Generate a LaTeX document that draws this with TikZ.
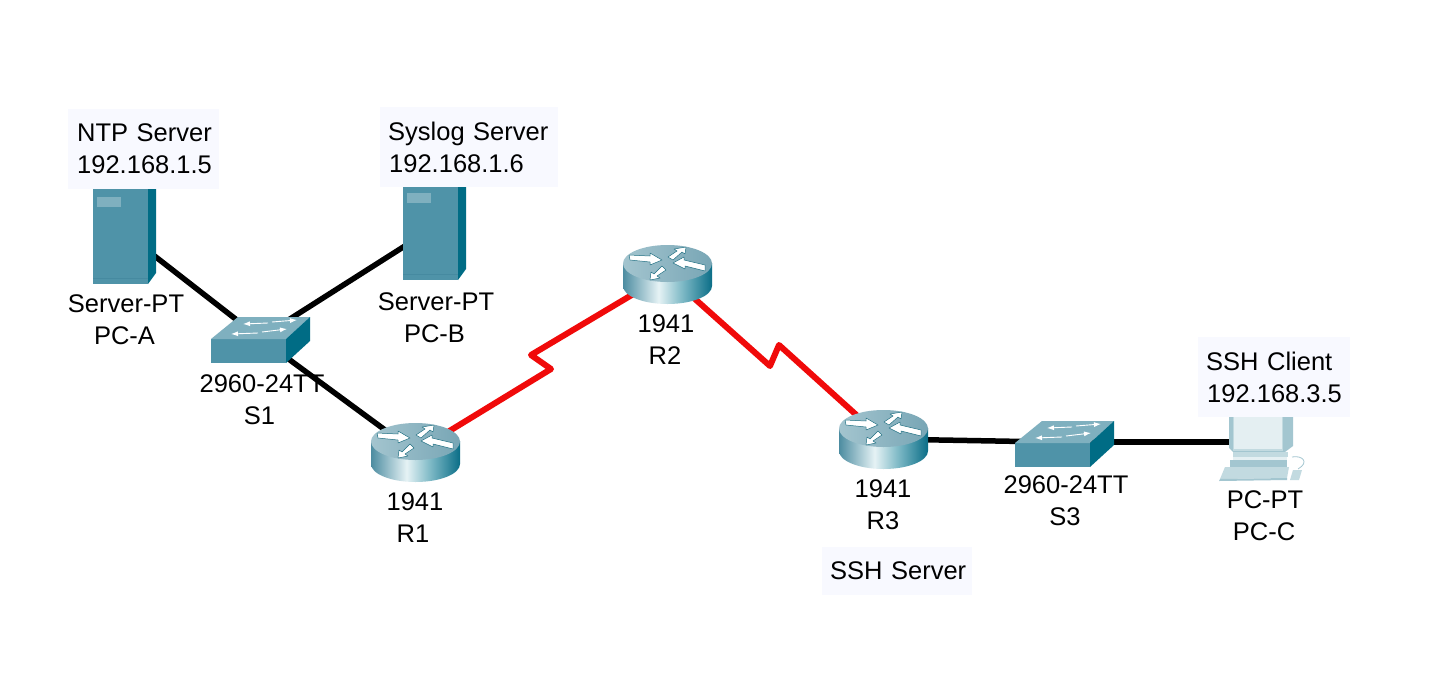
\documentclass[tikz,border=0pt]{standalone}
\usepackage{fontspec}
\setmainfont{Liberation Sans}
\usetikzlibrary{arrows.meta}
\definecolor{boxbg}{HTML}{F8F9FF}
\definecolor{tealF}{HTML}{4F93A8}
\definecolor{tealT}{HTML}{7FB0BF}
\definecolor{tealS}{HTML}{006C85}
\definecolor{tealB}{HTML}{468AA0}
\definecolor{arrowdark}{HTML}{1F6F82}
\definecolor{pcA}{HTML}{C2DAE0}
\definecolor{pcB}{HTML}{A3C6D0}
\definecolor{pcC}{HTML}{E4EFF2}
\definecolor{redlink}{HTML}{F00A0A}
\pgfdeclarehorizontalshading{routerside}{100bp}{
  rgb(0bp)=(0.30,0.55,0.63); rgb(25bp)=(0.30,0.55,0.63);
  rgb(45bp)=(0.90,0.95,0.96); rgb(58bp)=(0.50,0.73,0.78);
  rgb(75bp)=(0.04,0.43,0.53); rgb(100bp)=(0.04,0.43,0.53)}
\pgfdeclarehorizontalshading{routertop}{100bp}{
  rgb(0bp)=(0.64,0.77,0.81); rgb(25bp)=(0.64,0.77,0.81);
  rgb(75bp)=(0.47,0.65,0.71); rgb(100bp)=(0.47,0.65,0.71)}
\tikzset{
  x=1pt,y=-1pt,
  wire/.style={line width=5.5pt,black,line join=miter},
  serial/.style={line width=6pt,redlink,line join=round},
  infobox/.style={fill=boxbg,inner sep=0pt,align=left,anchor=north west,font=\fontsize{25.5}{32}\selectfont},
  devlabel/.style={inner sep=0pt,align=center,anchor=north,font=\fontsize{25.5}{32}\selectfont},
  swarrow/.style={white,line width=.9pt,-{Latex[length=7pt,width=5pt]}},
  rarrow/.style={fill=white,draw=arrowdark,line width=.5pt,line join=round},
  serverpic/.pic={
    \fill[tealF] (93,189) rectangle (148,284);
    \fill[tealS] (148,189) -- (156,189) -- (156,273) -- (148,284) -- cycle;
    \fill[tealT] (97,197) rectangle (121,207);
    \draw[tealB,line width=.8pt] (93,278) -- (148,278);
  },
  switchpic/.pic={
    \fill[tealF] (211,339) rectangle (286,363);
    \fill[tealT] (211,339) -- (238,317) -- (310,317) -- (286,339) -- cycle;
    \fill[tealS] (286,339) -- (310,317) -- (310,341) -- (286,363) -- cycle;
    \draw[swarrow] (268,323) -- (243,324);
    \draw[swarrow] (272,322) -- (297,320);
    \draw[swarrow] (258,333) -- (231,334);
    \draw[swarrow] (262,332) -- (287,329);
  },
  routerpic/.pic={
    \shade[shading=routerside]
      (623,263) -- (623,286) arc[start angle=180,end angle=0,x radius=44.5,y radius=18] -- (712,263) -- cycle;
    \shade[shading=routertop] (667.5,263.5) ellipse[x radius=44.5,y radius=18.5];
    \path[rarrow] (629,255) -- (650,256) -- (650,253) -- (662,260) -- (650,265) -- (650,262) -- (630,260) -- cycle;
    \path[rarrow] (668,257) -- (677,251) -- (674,249) -- (686,247) -- (685,254) -- (682,252) -- (673,260) -- cycle;
    \path[rarrow] (705,271) -- (685,266) -- (685,269) -- (673,263) -- (684,257) -- (684,260) -- (705,265) -- cycle;
    \path[rarrow] (666,270) -- (657,276) -- (660,278) -- (650,280) -- (651,272) -- (654,274) -- (662,266) -- cycle;
  },
  pcpic/.pic={
    \fill[pcB] (1229,410) -- (1293,410) -- (1293,446) -- (1285,452) -- (1233,452) -- (1229,448) -- cycle;
    \fill[pcA] (1233,410) rectangle (1283,451);
    \fill[pcC] (1234,410) rectangle (1282,449);
    \fill[pcA] (1233,452) -- (1288,452) -- (1288,457) -- (1233,457) -- cycle;
    \fill[pcC] (1233,457) rectangle (1287,460);
    \fill[pcB] (1230,460) -- (1287,460) -- (1287,468) -- (1230,468) -- cycle;
    \fill[pcA] (1225,467) -- (1289,467) -- (1287,478) -- (1220,479) -- cycle;
    \fill[pcB] (1220,479) -- (1287,478) -- (1287,480) -- (1219,481) -- cycle;
    \fill[pcA] (1293,470) -- (1302,470) -- (1299,480) -- (1290,480) -- cycle;
    \draw[pcB,line width=.8pt] (1292,457) .. controls (1302,455) and (1310,462) .. (1298,469);
  }
}
\begin{document}
\begin{tikzpicture}
\useasboundingbox (0,0) rectangle (1446,675);
\fill[white] (0,0) rectangle (1446,675);
% anchors of the devices
\coordinate (pca) at (125,233);
\coordinate (pcb) at (430,230);
\coordinate (s1) at (260,338);
\coordinate (r1) at (415,452);
\coordinate (r2) at (667,274);
\coordinate (r3) at (883,439);
\coordinate (s3) at (1052,442);
\coordinate (pcc) at (1262,442);
\coordinate (k1a) at (551,369);
\coordinate (k1b) at (531,355);
\coordinate (k2a) at (770,366);
\coordinate (k2b) at (779,345);
% links
\draw[wire] (pca) -- (s1);
\draw[wire] (pcb) -- (s1);
\draw[wire] (s1) -- (r1);
\draw[wire] (r3) -- (s3);
\draw[wire] (s3) -- (pcc);
\draw[serial] (r1) -- (k1a) -- (k1b) -- (r2);
\draw[serial] (r2) -- (k2a) -- (k2b) -- (r3);
% devices
\pic at (0,0) {serverpic};
\pic at (310,-4) {serverpic};
\pic at (0,0) {switchpic};
\pic at (804,104) {switchpic};
\pic at (-252,178) {routerpic};
\pic at (0,0) {routerpic};
\pic at (216,165) {routerpic};
\pic at (0,0) {pcpic};
% info boxes
\node[infobox,minimum width=151pt,minimum height=80pt,text width=151pt] (ntp) at (68,109) {\hspace*{9pt}NTP Server\\\hspace*{9pt}192.168.1.5};
\node[infobox,minimum width=178pt,minimum height=80pt,text width=178pt] (syslog) at (380,107) {\hspace*{8pt}Syslog Server\\\hspace*{9pt}192.168.1.6};
\node[infobox,minimum width=152pt,minimum height=80pt,text width=152pt] (client) at (1198,337) {\hspace*{8pt}SSH Client\\\hspace*{9pt}192.168.3.5};
\node[infobox,minimum width=150pt,minimum height=48pt,text width=150pt] (sshsrv) at (822,547) {\hspace*{8pt}SSH Server};
% device labels
\node[devlabel] (la) at (126,294) {Server-PT\\\hspace*{-3pt}PC-A};
\node[devlabel] (lb) at (436,292) {Server-PT\\\hspace*{-3pt}PC-B};
\node[devlabel] (ls1) at (262,374) {2960-24TT\\\hspace*{-5pt}S1};
\node[devlabel] (lr1) at (415,492) {1941\\\hspace*{-4pt}R1};
\node[devlabel] (lr2) at (666,314) {1941\\\hspace*{-2pt}R2};
\node[devlabel] (lr3) at (883,479) {1941\\R3};
\node[devlabel] (ls3) at (1066,475) {2960-24TT\\\hspace*{-2pt}S3};
\node[devlabel] (lc) at (1265,490) {PC-PT\\\hspace*{-2pt}PC-C};
\end{tikzpicture}
\end{document}
